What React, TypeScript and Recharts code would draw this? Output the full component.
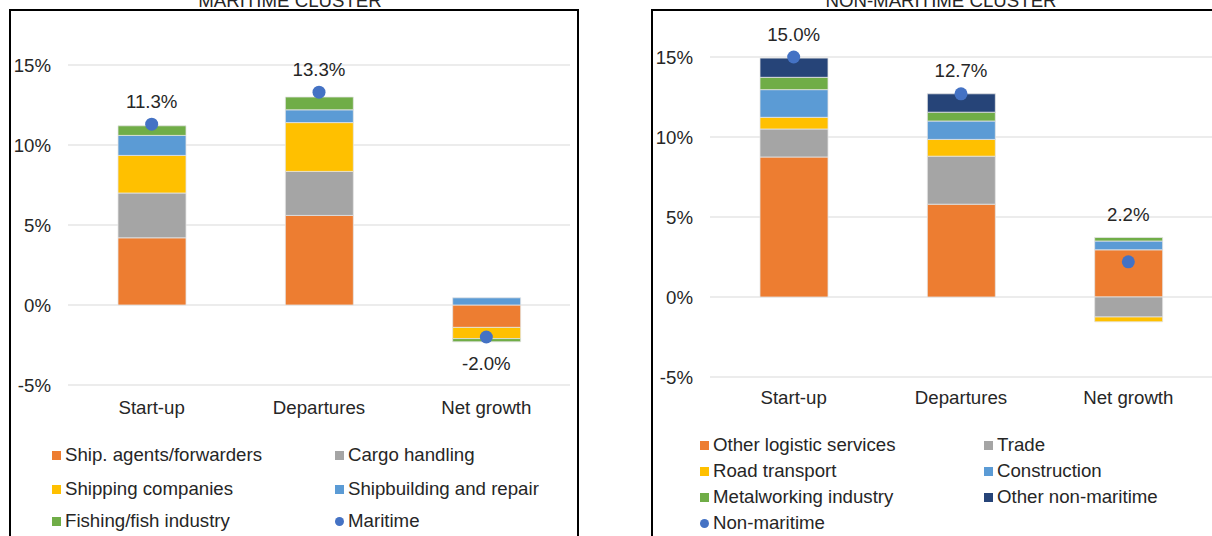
import React from 'react';
import { ComposedChart, Bar, Line, XAxis, YAxis, CartesianGrid } from 'recharts';

const categories = ['Start-up', 'Departures', 'Net growth'];

// Maritime cluster (percent)
const shipAgents = [4.2, 5.6, -1.4];
const cargoHandling = [2.8, 2.75, 0];
const shippingCompanies = [2.35, 3.05, -0.7];
const shipbuilding = [1.25, 0.8, 0.45];
const fishing = [0.6, 0.8, -0.2];
const maritimeTotal = [11.3, 13.3, -2.0];

// Non-maritime cluster (percent)
const otherLogistic = [8.75, 5.8, 2.95];
const trade = [1.75, 3.0, -1.25];
const roadTransport = [0.73, 1.05, -0.3];
const construction = [1.73, 1.15, 0.55];
const metalworking = [0.77, 0.55, 0.22];
const otherNonMaritime = [1.2, 1.15, 0];
const nonMaritimeTotal = [15.0, 12.7, 2.2];

const yTicks = [-5, 0, 5, 10, 15];

type Series = { key: string; name: string; color: string; values: number[] };

const maritimeSeries: Series[] = [
  { key: 'shipAgents', name: 'Ship. agents/forwarders', color: '#ED7D31', values: shipAgents },
  { key: 'cargoHandling', name: 'Cargo handling', color: '#A5A5A5', values: cargoHandling },
  { key: 'shippingCompanies', name: 'Shipping companies', color: '#FFC000', values: shippingCompanies },
  { key: 'shipbuilding', name: 'Shipbuilding and repair', color: '#5B9BD5', values: shipbuilding },
  { key: 'fishing', name: 'Fishing/fish industry', color: '#70AD47', values: fishing },
];

const nonMaritimeSeries: Series[] = [
  { key: 'otherLogistic', name: 'Other logistic services', color: '#ED7D31', values: otherLogistic },
  { key: 'trade', name: 'Trade', color: '#A5A5A5', values: trade },
  { key: 'roadTransport', name: 'Road transport', color: '#FFC000', values: roadTransport },
  { key: 'construction', name: 'Construction', color: '#5B9BD5', values: construction },
  { key: 'metalworking', name: 'Metalworking industry', color: '#70AD47', values: metalworking },
  { key: 'otherNonMaritime', name: 'Other non-maritime', color: '#264478', values: otherNonMaritime },
];

const DOT_COLOR = '#4472C4';
const TEXT = '#262626';
const FONT = "'Liberation Sans', Arial, sans-serif";
const FS = 18.67;

function buildData(series: Series[], totals: number[]) {
  return categories.map((name, i) => {
    const row: any = { name };
    let pos = 0;
    let neg = 0;
    series.forEach((s) => {
      const v = s.values[i];
      row[s.key] = v;
      if (v >= 0) pos += v;
      else neg += v;
    });
    const t = totals[i];
    row.total = t;
    row.anchor = t >= 0 ? Math.max(t, pos) : Math.min(t, neg);
    return row;
  });
}

const renderDot = (props: any) => {
  const { cx, cy, index } = props;
  if (cx == null || cy == null) return <g key={`d${index}`} />;
  return <circle key={`d${index}`} cx={cx} cy={cy} r={6.5} fill={DOT_COLOR} />;
};

const renderLabel = (props: any) => {
  const { cx, cy, payload, index } = props;
  if (cx == null || cy == null) return <g key={`l${index}`} />;
  const up = payload.total >= 0;
  return (
    <text
      key={`l${index}`}
      x={cx}
      y={up ? cy - 23 : cy + 22}
      textAnchor="middle"
      dominantBaseline="central"
      fontSize={FS}
      fontFamily={FONT}
      fill={TEXT}
    >
      {payload.total.toFixed(1)}%
    </text>
  );
};

function Cluster(props: {
  series: Series[];
  totals: number[];
  totalName: string;
  width: number;
  height: number;
  margin: any;
  xTickMargin: number;
}) {
  const data = buildData(props.series, props.totals);
  return (
    <ComposedChart
      width={props.width}
      height={props.height}
      data={data}
      margin={props.margin}
      stackOffset="sign"
    >
      <CartesianGrid vertical={false} stroke="#D9D9D9" strokeWidth={1.2} syncWithTicks />
      <XAxis
        dataKey="name"
        axisLine={false}
        tickLine={false}
        height={30}
        tickMargin={props.xTickMargin}
        tick={{ fontSize: FS, fill: TEXT, fontFamily: FONT }}
        interval={0}
      />
      <YAxis
        type="number"
        domain={[-5, 17.5]}
        ticks={yTicks}
        width={58}
        axisLine={false}
        tickLine={false}
        tickMargin={11}
        tickFormatter={(v: number) => `${v}%`}
        tick={{ fontSize: FS, fill: TEXT, fontFamily: FONT }}
        allowDataOverflow
      />
      {props.series.map((s) => (
        <Bar
          key={s.key}
          dataKey={s.key}
          name={s.name}
          stackId="a"
          fill={s.color}
          barSize={68}
          stroke="#E4E4E4"
          strokeWidth={0.8}
          isAnimationActive={false}
        />
      ))}
      <Line
        dataKey="total"
        name={props.totalName}
        stroke="none"
        dot={renderDot}
        activeDot={false}
        isAnimationActive={false}
      />
      <Line
        dataKey="anchor"
        stroke="none"
        dot={renderLabel}
        activeDot={false}
        legendType="none"
        isAnimationActive={false}
      />
    </ComposedChart>
  );
}

function LegendBlock(props: {
  series: Series[];
  totalName: string;
  col1: number;
  col2: number;
  rows: number[];
}) {
  const items = [
    ...props.series.map((s) => ({ name: s.name, color: s.color, circle: false })),
    { name: props.totalName, color: DOT_COLOR, circle: true },
  ];
  return (
    <>
      {items.map((it, i) => {
        const col = i % 2;
        const row = Math.floor(i / 2);
        const left = col === 0 ? props.col1 : props.col2;
        const cy = props.rows[row];
        return (
          <div
            key={it.name}
            style={{
              position: 'absolute',
              left,
              top: cy - 12,
              height: 24,
              display: 'flex',
              alignItems: 'center',
              whiteSpace: 'nowrap',
              fontSize: FS,
              color: TEXT,
              fontFamily: FONT,
            }}
          >
            <span
              style={{
                display: 'inline-block',
                width: 9,
                height: 9,
                background: it.color,
                borderRadius: it.circle ? '50%' : 0,
                marginRight: 4,
              }}
            />
            <span>{it.name}</span>
          </div>
        );
      })}
    </>
  );
}

export default function App() {
  return (
    <div
      style={{
        position: 'absolute',
        left: 0,
        top: 0,
        width: 1212,
        height: 536,
        overflow: 'hidden',
        background: '#fff',
        fontFamily: FONT,
      }}
    >
      {/* frames */}
      <div
        style={{
          position: 'absolute',
          left: 9,
          top: 9,
          width: 570,
          height: 600,
          border: '2px solid #000',
          boxSizing: 'border-box',
        }}
      />
      <div
        style={{
          position: 'absolute',
          left: 651,
          top: 9,
          width: 600,
          height: 600,
          border: '2px solid #000',
          boxSizing: 'border-box',
        }}
      />
      {/* titles (partly above the visible area, as in the reference) */}
      <div
        style={{
          position: 'absolute',
          left: 290 - 200,
          width: 400,
          top: -9.5,
          lineHeight: '20px',
          textAlign: 'center',
          fontSize: FS,
          color: TEXT,
        }}
      >
        MARITIME CLUSTER
      </div>
      <div
        style={{
          position: 'absolute',
          left: 941 - 200,
          width: 400,
          top: -9.5,
          lineHeight: '20px',
          textAlign: 'center',
          fontSize: FS,
          color: TEXT,
        }}
      >
        NON-MARITIME CLUSTER
      </div>
      {/* charts */}
      <div style={{ position: 'absolute', left: 0, top: 0 }}>
        <Cluster
          series={maritimeSeries}
          totals={maritimeTotal}
          totalName="Maritime"
          width={578}
          height={420}
          margin={{ top: 25, right: 8, bottom: 5, left: 10 }}
          xTickMargin={10}
        />
      </div>
      <div style={{ position: 'absolute', left: 600, top: 0 }}>
        <Cluster
          series={nonMaritimeSeries}
          totals={nonMaritimeTotal}
          totalName="Non-maritime"
          width={612}
          height={420}
          margin={{ top: 17, right: 0, bottom: 13, left: 52 }}
          xTickMargin={8}
        />
      </div>
      {/* legends */}
      <LegendBlock
        series={maritimeSeries}
        totalName="Maritime"
        col1={52}
        col2={335}
        rows={[455, 489, 521]}
      />
      <LegendBlock
        series={nonMaritimeSeries}
        totalName="Non-maritime"
        col1={700}
        col2={984}
        rows={[445, 471, 497, 523]}
      />
    </div>
  );
}
